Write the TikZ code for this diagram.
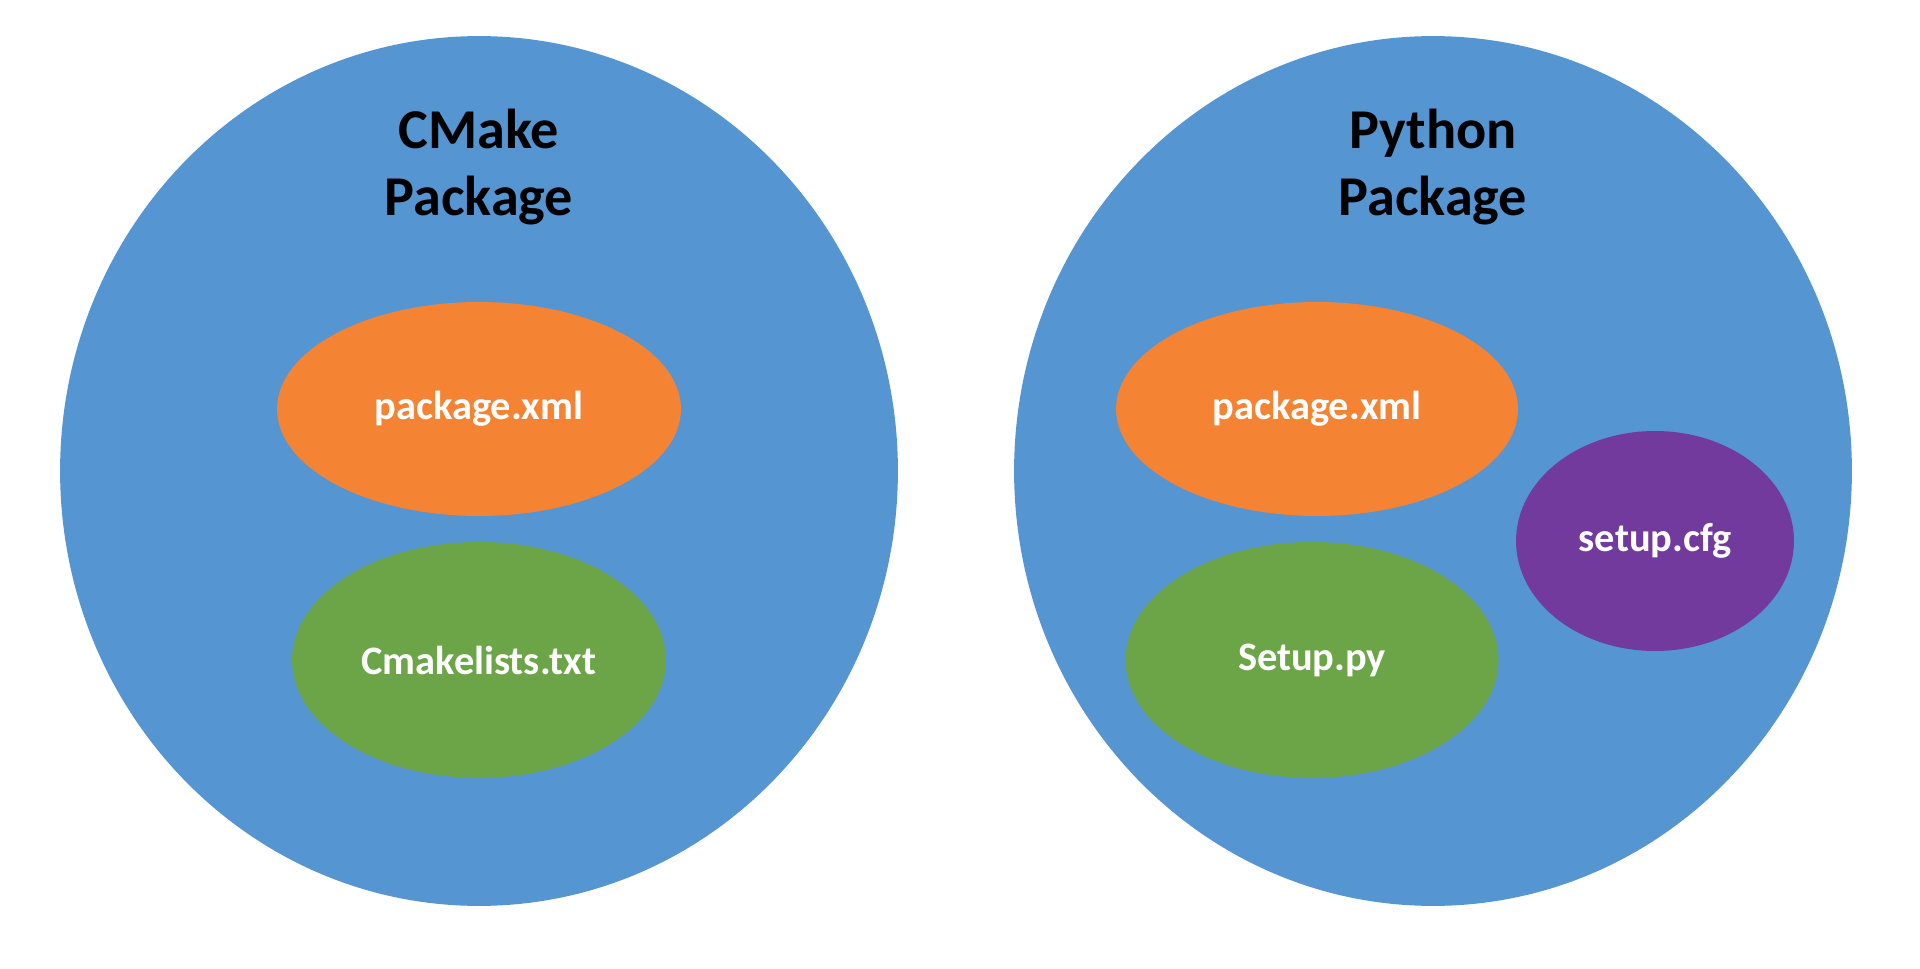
\documentclass[tikz,border=0pt]{standalone}
\usepackage{fontspec}
\setmainfont{Carlito}
\usetikzlibrary{shapes.geometric}

\definecolor{pkgblue}{HTML}{5495D2}
\definecolor{xmlorange}{HTML}{F48433}
\definecolor{buildgreen}{HTML}{6CA547}
\definecolor{cfgpurple}{HTML}{733A9E}

\begin{document}
\begin{tikzpicture}[x=0.02cm, y=0.02cm,
    blob/.style={ellipse, inner sep=0pt},
    file/.style={blob, text=white, font=\fontsize{23}{28}\selectfont\bfseries},
    title/.style={align=center, font=\fontsize{32}{38}\selectfont\bfseries}]

  \useasboundingbox (0,0) rectangle (1920,968);

  % CMake package
  \node[blob, fill=pkgblue, minimum width=16.76cm, minimum height=17.4cm] (cmake) at (479,497) {};
  \node[title] (cmaketitle) at (479,801) {CMake\\Package};
  \node[file, fill=xmlorange, minimum width=8.08cm, minimum height=4.28cm] (cmakexml) at (479,559) {package.xml};
  \node[file, fill=buildgreen, minimum width=7.48cm, minimum height=4.72cm] (cmakelists) at (479,308) {Cmakelists.txt};

  % Python package
  \node[blob, fill=pkgblue, minimum width=16.76cm, minimum height=17.4cm] (python) at (1433,497) {};
  \node[title] (pythontitle) at (1433,801) {Python\\Package};
  \node[file, fill=xmlorange, minimum width=8.04cm, minimum height=4.28cm] (pythonxml) at (1317,559) {package.xml};
  \node[file, fill=buildgreen, minimum width=7.46cm, minimum height=4.72cm] (setuppy) at (1312,308) {Setup.py};
  \node[file, fill=cfgpurple, minimum width=5.56cm, minimum height=4.4cm] (setupcfg) at (1655,427) {setup.cfg};

\end{tikzpicture}
\end{document}
